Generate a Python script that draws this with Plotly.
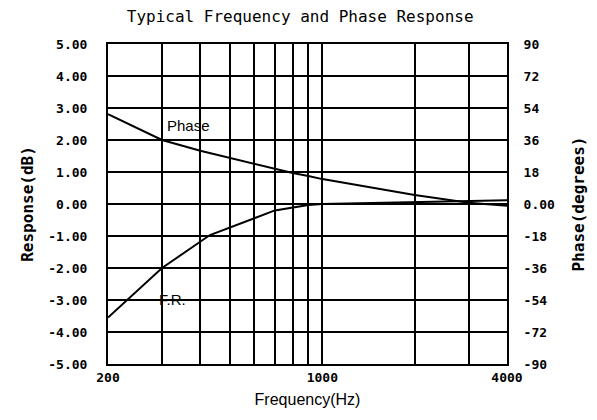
import plotly.graph_objects as go

# Data
fr_freq = [200, 300, 430, 700, 900, 1000, 4000]
fr_db = [-3.55, -2.0, -0.97, -0.2, -0.03, 0.0, 0.12]

ph_freq = [200, 300, 400, 500, 600, 700, 800, 900, 1000, 2000, 3000, 4000]
ph_deg = [50.6, 36, 30, 26, 22.5, 19.7, 17.4, 15.7, 14, 5, 0.7, -1]

x_grid = [200, 300, 400, 500, 600, 700, 800, 900, 1000, 2000, 3000, 4000]
x_labels = ["200", "", "", "", "", "", "", "", "1000", "", "", "4000"]

y_left_vals = [5, 4, 3, 2, 1, 0, -1, -2, -3, -4, -5]
y_left_text = ["5.00", "4.00", "3.00", "2.00", "1.00", "0.00", "-1.00", "-2.00", "-3.00", "-4.00", "-5.00"]
y_right_vals = [90, 72, 54, 36, 18, 0, -18, -36, -54, -72, -90]
y_right_text = ["90", "72", "54", "36", "18", "0.00", "-18", "-36", "-54", "-72", "-90"]

MONO = "DejaVu Sans Mono"
tick_font = dict(family=MONO, size=13, color="black", weight="bold")
ytitle_font = dict(family=MONO, size=16, color="black", weight="bold")

fig = go.Figure()
fig.add_trace(go.Scatter(x=fr_freq, y=fr_db, mode="lines",
                         line=dict(color="black", width=2), yaxis="y", showlegend=False))
fig.add_trace(go.Scatter(x=ph_freq, y=ph_deg, mode="lines",
                         line=dict(color="black", width=2), yaxis="y2", showlegend=False))

# the page body adds an 8px margin, so the figure is 8px smaller
fig.update_layout(
    width=589, height=412,
    margin=dict(l=100, r=90, t=36, b=56, autoexpand=False),
    paper_bgcolor="white", plot_bgcolor="white",
    title=dict(text="Typical Frequency and Phase Response", x=0.496, xanchor="center",
               xref="container", yref="container",
               y=1.0, yanchor="top", pad=dict(t=3),
               font=dict(family=MONO, size=16, color="black")),
    xaxis=dict(type="log", range=[2.30103, 3.60206], tickvals=x_grid, ticktext=x_labels,
               showgrid=True, gridcolor="black", gridwidth=2,
               showline=True, linecolor="black", linewidth=2, mirror=True,
               ticks="", tickfont=tick_font, ticklabelstandoff=0, automargin=False,
               title=dict(text="Frequency(Hz)", font=dict(family="Liberation Sans", size=16, color="black"),
                          standoff=10)),
    yaxis=dict(range=[-5, 5], tickvals=y_left_vals, ticktext=y_left_text,
               showgrid=True, gridcolor="black", gridwidth=2, zeroline=False,
               showline=True, linecolor="black", linewidth=2,
               ticks="", tickfont=tick_font, ticklabelstandoff=16, automargin=False,
               title=dict(text="Response(dB)", font=ytitle_font, standoff=11)),
    yaxis2=dict(range=[-90, 90], tickvals=y_right_vals, ticktext=y_right_text,
                overlaying="y", side="right", showgrid=False, zeroline=False,
                showline=True, linecolor="black", linewidth=2,
                ticks="", tickfont=tick_font, ticklabelstandoff=12, automargin=False,
                title=dict(text="Phase(degrees)", font=ytitle_font, standoff=19)),
    annotations=[
        dict(text="Phase", x=0.143, y=0.778, xref="paper", yref="paper", showarrow=False,
             font=dict(family="Liberation Sans", size=15, color="black")),
        dict(text="F.R.", x=0.123, y=0.169, xref="paper", yref="paper", showarrow=False,
             font=dict(family="Liberation Sans", size=15, color="black")),
    ],
)

fig.write_html("out.html")
